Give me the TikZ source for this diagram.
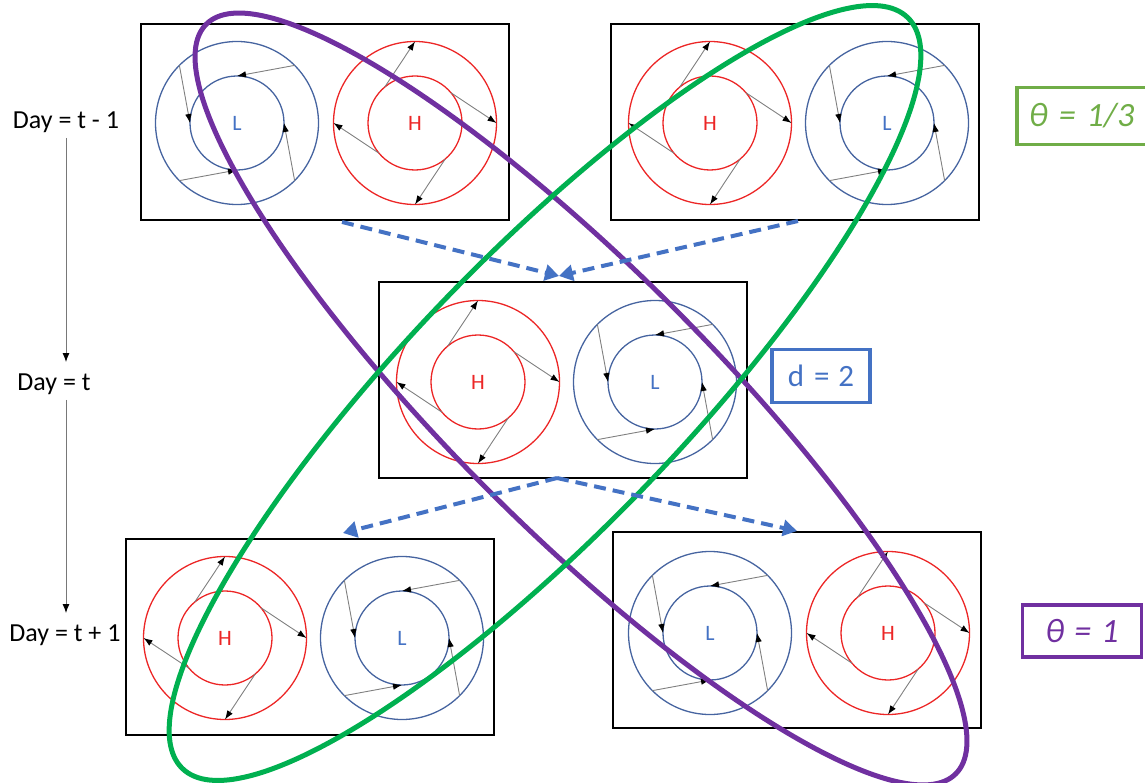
\documentclass[tikz,border=0pt]{standalone}
\usepackage{fontspec}
\setmainfont{Carlito}
\usetikzlibrary{arrows.meta,positioning}

\definecolor{hired}{RGB}{236,38,38}
\definecolor{loblue}{RGB}{70,100,160}
\definecolor{lotext}{RGB}{68,114,196}
\definecolor{dashblue}{RGB}{68,114,196}
\definecolor{thgreen}{RGB}{0,176,80}
\definecolor{thpurple}{RGB}{112,48,160}
\definecolor{lblgreen}{RGB}{112,173,71}

\tikzset{
  frame/.style={draw=black, line width=1.8pt, minimum width=368pt, minimum height=196pt, inner sep=0pt},
  flow/.style={draw={rgb,255:red,128;green,128;blue,128}, line width=0.9pt, -{Latex[length=9pt,width=6.5pt,color=black]}},
  daylbl/.style={font=\fontsize{26}{30}\selectfont},
  dayflow/.style={draw={rgb,255:red,120;green,120;blue,120}, line width=0.9pt, -{Latex[length=9pt,width=7pt,color=black]}},
  daymove/.style={dashblue, line width=4pt, dash pattern=on 12pt off 7pt, -{Triangle[length=14pt,width=16pt]}},
  thetabox/.style={line width=3.5pt, inner xsep=11pt, font=\fontsize{34}{36}\selectfont\itshape},
  pics/high/.style={code={
    \draw[hired, line width=1.3pt] (0,0) circle (81.5) (0,0) circle (47);
    \node[hired, font=\fontsize{22}{22}\selectfont] at (0,0) {H};
    \foreach \a in {0,90,180,270}
      \draw[flow] (\a-40:47) -- (\a:81.5);
  }},
  pics/low/.style={code={
    \draw[loblue, line width=1.3pt] (0,0) circle (81.5) (0,0) circle (47);
    \node[lotext, font=\fontsize{22}{22}\selectfont] at (0,0) {L};
    \foreach \a in {0,90,180,270}
      \draw[flow] (\a+45:81.5) -- (\a:47);
  }},
}

\begin{document}
\begin{tikzpicture}[x=1pt, y=-1pt]
\useasboundingbox (0,0) rectangle (1145,783);

    \node[frame] (tl) at (325,122) {};
    \node[frame] (tr) at (795,122) {};
    \node[frame] (mid) at (563,380) {};
    \node[frame] (bl) at (310,637) {};
    \node[frame] (br) at (797,630) {};

    \pic at (237,123) {low};
    \pic at (415,123) {high};
    \pic at (710,123) {high};
    \pic at (887,123) {low};
    \pic at (478,382) {high};
    \pic at (655,382) {low};
    \pic at (225,638) {high};
    \pic at (402,638) {low};
    \pic at (710,633) {low};
    \pic at (888,633) {high};

    \node[daylbl] (d1) at (66,122) {Day = t - 1};
    \node[daylbl] (d2) at (54,384) {Day = t};
    \node[daylbl] (d3) at (65,635) {Day = t + 1};
    \draw[dayflow, shorten <=2pt, shorten >=8pt] (d1.south) -- (d1.south |- d2.north);
    \draw[dayflow, shorten <=2pt, shorten >=8pt] (d1.south |- d2.south) -- (d1.south |- d3.north);

    \draw[thpurple, line width=5pt, rotate around={-45:(581,399)}] (581,399) ellipse (530 and 130);
    \draw[thgreen, line width=5pt, rotate around={46:(545,393)}] (545,393) ellipse (522 and 137);

    \node[thetabox, draw=lblgreen, text=lblgreen, anchor=west, minimum height=57pt, inner xsep=12pt, text width=130pt] (th3) at (1015,116) {θ\hspace{11pt}=\hspace{11pt}1/3};
    \node[draw=dashblue, text=dashblue, line width=3.5pt, minimum width=98pt, minimum height=53pt, font=\fontsize{31}{34}\selectfont] (dd) at (821,376) {d\hspace{10pt}=\hspace{9pt}2};
    \node[thetabox, draw=thpurple, text=thpurple, minimum width=119pt, minimum height=52pt] (th1) at (1082,631) {θ\hspace{10pt}=\hspace{10pt}1};

    \coordinate (tlout) at (342,222);
    \coordinate (trout) at (798,221);
    \coordinate (midin) at (559,276);
    \coordinate (midout) at (557,478);
    \coordinate (blin) at (343,533);
    \coordinate (brin) at (797,531);

    \draw[daymove] (tlout) -- (midin);
    \draw[daymove] (trout) -- (midin);
    \draw[daymove] (midout) -- (blin);
    \draw[daymove] (midout) -- (brin);

\end{tikzpicture}
\end{document}
